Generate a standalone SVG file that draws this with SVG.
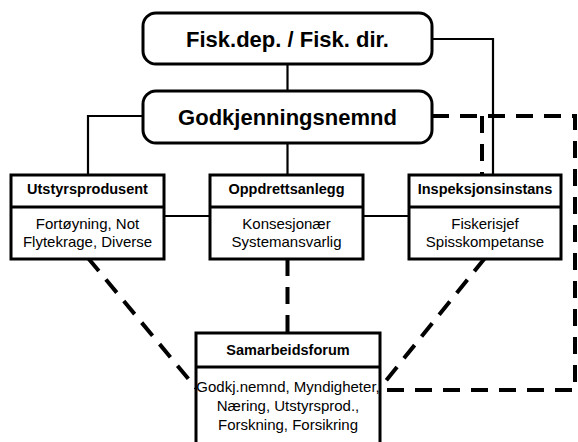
<svg xmlns="http://www.w3.org/2000/svg" width="578" height="442" viewBox="0 0 578 442">
<style>
  .rbox { fill: #fff; stroke: #000; stroke-width: 3; }
  .box { fill: #fff; stroke: #000; stroke-width: 3; }
  .title { font-family: "Liberation Sans", Arial, sans-serif; font-weight: bold; font-size: 22px; text-anchor: middle; fill: #000; }
  .head { font-family: "Liberation Sans", Arial, sans-serif; font-weight: bold; font-size: 14.5px; text-anchor: middle; fill: #000; }
  .body { font-family: "Liberation Sans", Arial, sans-serif; font-size: 15px; text-anchor: middle; fill: #000; }
  .solid { fill: none; stroke: #000; stroke-width: 2.2; }
  .dash { fill: none; stroke: #000; stroke-width: 4; stroke-dasharray: 17 11; }
</style>
<rect width="578" height="442" fill="#fff"/>
<g id="connectors">
  <path class="solid" d="M287.5 64 V91"/>
  <path class="solid" d="M287.5 143 V175"/>
  <path class="solid" d="M143 116 H88 V175"/>
  <path class="solid" d="M432 39 H493 V175"/>
  <path class="solid" d="M164 216 H210"/>
  <path class="solid" d="M363 216 H409"/>
  <path class="dash" d="M432 116 H575 V390 H380"/>
  <path class="dash" d="M482 116 V175"/>
  <path class="dash" d="M287.5 259 V333"/>
  <path class="dash" d="M88 258 L196 388"/>
  <path class="dash" d="M485 258 L380 388"/>
</g>
<g id="fiskdep">
  <rect class="rbox" x="143" y="13" width="289" height="51" rx="13"/>
  <text class="title" x="287.5" y="47">Fisk.dep. / Fisk. dir.</text>
</g>
<g id="godkjenningsnemnd">
  <rect class="rbox" x="143" y="91" width="289" height="52" rx="13"/>
  <text class="title" x="287.5" y="125">Godkjenningsnemnd</text>
</g>
<g id="utstyrsprodusent">
  <rect class="box" x="11" y="175" width="153" height="84"/>
  <path class="box" d="M11 207 H164"/>
  <text class="head" x="87.5" y="194">Utstyrsprodusent</text>
  <text class="body" x="87.5" y="229">Fortøyning, Not</text>
  <text class="body" x="87.5" y="247">Flytekrage, Diverse</text>
</g>
<g id="oppdrettsanlegg">
  <rect class="box" x="210" y="175" width="153" height="84"/>
  <path class="box" d="M210 207 H363"/>
  <text class="head" x="286.5" y="194">Oppdrettsanlegg</text>
  <text class="body" x="286.5" y="229">Konsesjonær</text>
  <text class="body" x="286.5" y="247">Systemansvarlig</text>
</g>
<g id="inspeksjonsinstans">
  <rect class="box" x="409" y="175" width="152" height="84"/>
  <path class="box" d="M409 207 H561"/>
  <text class="head" x="485" y="194">Inspeksjonsinstans</text>
  <text class="body" x="485" y="229">Fiskerisjef</text>
  <text class="body" x="485" y="247">Spisskompetanse</text>
</g>
<g id="samarbeidsforum">
  <rect class="box" x="196" y="333" width="184" height="120"/>
  <path class="box" d="M196 367 H380"/>
  <text class="head" x="288" y="355">Samarbeidsforum</text>
  <text class="body" x="288" y="392">Godkj.nemnd, Myndigheter,</text>
  <text class="body" x="288" y="411">Næring, Utstyrsprod.,</text>
  <text class="body" x="288" y="430">Forskning, Forsikring</text>
</g>
</svg>
